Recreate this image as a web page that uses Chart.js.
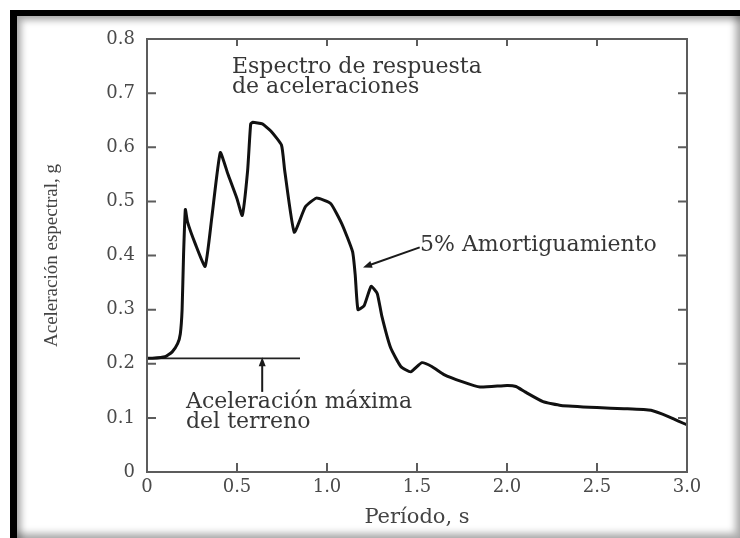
<!DOCTYPE html>
<html lang="es">
<head>
<meta charset="UTF-8">
<title>Espectro de respuesta de aceleraciones</title>
<script src="https://cdn.jsdelivr.net/npm/chart.js"></script>
<style>
  body {
    margin: 0;
    background: #fff;
    width: 740px;
    height: 538px;
    overflow: hidden;
    position: relative;
  }
  .frame {
    position: absolute;
    left: 10px;
    top: 10px;
    width: 730px;
    height: 528px;
    box-sizing: border-box;
    border-top: 6px solid #000;
    border-left: 7px solid #000;
    box-shadow: inset 4px 4px 7px rgba(0, 0, 0, 0.35), inset -5px -5px 7px rgba(0, 0, 0, 0.3);
  }
  canvas {
    position: absolute;
    left: 0;
    top: 0;
  }
</style>
</head>
<body>
<div class="frame"></div>
<canvas id="chart" width="740" height="538"></canvas>

<script>
  // Periodo (s) and spectral acceleration (g)
  const periods = [0, 0.03, 0.10, 0.14, 0.17, 0.185, 0.195, 0.203, 0.213, 0.225,
    0.27, 0.323, 0.36, 0.407, 0.45, 0.50, 0.529, 0.559, 0.576, 0.588,
    0.641, 0.688, 0.747, 0.765, 0.818, 0.88, 0.941, 1.02, 1.083, 1.142,
    1.157, 1.172, 1.206, 1.245, 1.279, 1.304, 1.353, 1.41, 1.465, 1.527,
    1.582, 1.65, 1.75, 1.85, 2.0, 2.05, 2.1, 2.2, 2.3, 2.5,
    2.65, 2.8, 2.9, 3.0];
  const accel = [0.21, 0.21, 0.213, 0.222, 0.237, 0.255, 0.30, 0.40, 0.485, 0.462,
    0.42, 0.38, 0.47, 0.59, 0.55, 0.505, 0.474, 0.557, 0.643, 0.646,
    0.643, 0.630, 0.604, 0.557, 0.443, 0.49, 0.506, 0.496, 0.458, 0.407,
    0.363, 0.30, 0.307, 0.343, 0.33, 0.289, 0.23, 0.195, 0.185, 0.202,
    0.195, 0.18, 0.167, 0.157, 0.16, 0.158, 0.148, 0.13, 0.123, 0.119,
    0.117, 0.114, 0.102, 0.087];

  // peak ground acceleration line
  const groundPeriods = [0, 0.85];
  const groundAccel = [0.21, 0.21];

  const xTickValues = [0, 0.5, 1.0, 1.5, 2.0, 2.5, 3.0];
  const xTickLabels = ['0', '0.5', '1.0', '1.5', '2.0', '2.5', '3.0'];
  const yTickValues = [0, 0.1, 0.2, 0.3, 0.4, 0.5, 0.6, 0.7, 0.8];
  const yTickLabels = ['0', '0.1', '0.2', '0.3', '0.4', '0.5', '0.6', '0.7', '0.8'];

  const axisColor = '#5c5c5c';
  const textColor = '#363636';
  const serif = '"DejaVu Serif", serif';

  function arrow(ctx, x1, y1, x2, y2) {
    const ang = Math.atan2(y2 - y1, x2 - x1);
    const len = 9, half = 3.5;
    ctx.beginPath();
    ctx.moveTo(x1, y1);
    ctx.lineTo(x2 - Math.cos(ang) * len * 0.8, y2 - Math.sin(ang) * len * 0.8);
    ctx.stroke();
    ctx.beginPath();
    ctx.moveTo(x2, y2);
    ctx.lineTo(x2 - Math.cos(ang) * len - Math.sin(ang) * half, y2 - Math.sin(ang) * len + Math.cos(ang) * half);
    ctx.lineTo(x2 - Math.cos(ang) * len + Math.sin(ang) * half, y2 - Math.sin(ang) * len - Math.cos(ang) * half);
    ctx.closePath();
    ctx.fill();
  }

  const decor = {
    id: 'decor',
    afterDraw(chart) {
      const { ctx, chartArea: a, scales: { x, y } } = chart;
      ctx.save();

      // box round the plot
      ctx.strokeStyle = axisColor;
      ctx.lineWidth = 2;
      ctx.strokeRect(a.left, a.top, a.right - a.left, a.bottom - a.top);

      // ticks pointing inwards on all four sides
      ctx.beginPath();
      xTickValues.forEach(v => {
        if (v <= x.min || v >= x.max) return;
        const px = x.getPixelForValue(v);
        ctx.moveTo(px, a.bottom); ctx.lineTo(px, a.bottom - 9);
        ctx.moveTo(px, a.top); ctx.lineTo(px, a.top + 7);
      });
      yTickValues.forEach(v => {
        if (v <= y.min || v >= y.max) return;
        const py = y.getPixelForValue(v);
        ctx.moveTo(a.left, py); ctx.lineTo(a.left + 9, py);
        ctx.moveTo(a.right, py); ctx.lineTo(a.right - 9, py);
      });
      ctx.stroke();

      // annotations
      ctx.fillStyle = textColor;
      ctx.font = '22px ' + serif;
      ctx.textAlign = 'left';
      ctx.textBaseline = 'alphabetic';
      ctx.fillText('Espectro de respuesta', 232, 73);
      ctx.fillText('de aceleraciones', 232, 93);
      ctx.fillText('5% Amortiguamiento', 420, 251);
      ctx.fillText('Aceleración máxima', 186, 408);
      ctx.fillText('del terreno', 186, 428);

      ctx.strokeStyle = '#1a1a1a';
      ctx.fillStyle = '#1a1a1a';
      ctx.lineWidth = 2;
      arrow(ctx, x.getPixelForValue(0.64), y.getPixelForValue(0.148),
        x.getPixelForValue(0.64), y.getPixelForValue(groundAccel[0]) - 1);
      arrow(ctx, x.getPixelForValue(1.515), y.getPixelForValue(0.415),
        x.getPixelForValue(1.2), y.getPixelForValue(0.378));

      ctx.restore();
    }
  };

  const tickFont = { family: serif, size: 18 };

  new Chart(document.getElementById('chart'), {
    type: 'line',
    data: {
      datasets: [{
        data: periods.map((t, i) => ({ x: t, y: accel[i] })),
        borderColor: '#111',
        borderWidth: 3,
        pointRadius: 0,
        tension: 0.15,
        fill: false
      }, {
        data: groundPeriods.map((t, i) => ({ x: t, y: groundAccel[i] })),
        borderColor: '#222',
        borderWidth: 1.6,
        pointRadius: 0,
        fill: false
      }]
    },
    options: {
      responsive: false,
      animation: false,
      layout: { padding: { left: 0, top: 39, right: 53, bottom: 0 } },
      plugins: {
        legend: { display: false },
        tooltip: { enabled: false }
      },
      scales: {
        x: {
          type: 'linear',
          min: 0,
          max: 3,
          afterBuildTicks: s => { s.ticks = xTickValues.map(v => ({ value: v })); },
          afterFit: s => { s.height = 66; },
          grid: { display: false, drawTicks: false },
          border: { display: false },
          ticks: {
            callback: v => xTickLabels[xTickValues.indexOf(v)],
            font: tickFont,
            color: '#4a4a4a',
            padding: 5,
            maxRotation: 0,
            autoSkip: false
          },
          title: {
            display: true,
            text: 'Período, s',
            font: { family: serif, size: 21 },
            color: '#444',
            padding: { top: 0, bottom: 8 }
          }
        },
        y: {
          type: 'linear',
          min: 0,
          max: 0.8,
          afterBuildTicks: s => { s.ticks = yTickValues.map(v => ({ value: v })); },
          afterFit: s => { s.width = 147; },
          grid: { display: false, drawTicks: false },
          border: { display: false },
          ticks: {
            callback: v => yTickLabels[yTickValues.indexOf(v)],
            font: tickFont,
            color: '#4a4a4a',
            padding: 12,
            autoSkip: false
          },
          title: {
            display: true,
            text: 'Aceleración espectral, g',
            font: { family: '"Liberation Serif", serif', size: 19 },
            color: '#444',
            padding: { top: 41, bottom: 0 }
          }
        }
      }
    },
    plugins: [decor]
  });
</script>
</body>
</html>
